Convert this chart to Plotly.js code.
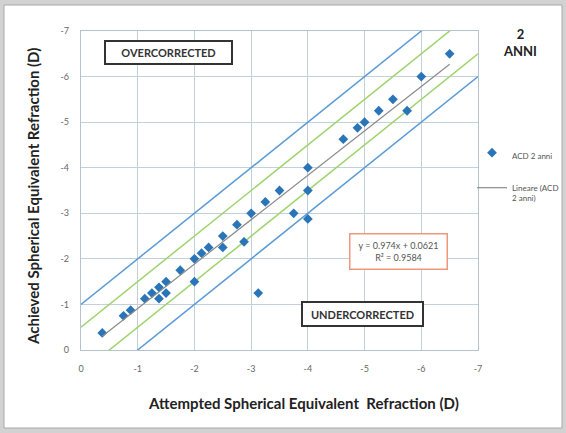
<!DOCTYPE html>
<html>
<head>
<meta charset="utf-8">
<script src="https://cdn.plot.ly/plotly-3.0.1.min.js"></script>
<style>html,body{margin:0;padding:0;background:#d2d2d2;}#chart{width:566px;height:433px;}</style>
</head>
<body>
<div id="chart"></div>
<script>
// Attempted vs achieved spherical equivalent refraction (D), 2 years
var attempted = [-0.375, -0.75, -0.875, -1.125, -1.25, -1.375, -1.375, -1.5, -1.5, -1.75,
  -2, -2, -2.125, -2.25, -2.5, -2.5, -2.75, -2.875, -3, -3.125,
  -3.25, -3.5, -3.75, -4, -4, -4, -4.625, -4.875, -5, -5.25,
  -5.5, -5.75, -6, -6.5];
var achieved = [-0.375, -0.75, -0.875, -1.125, -1.25, -1.375, -1.125, -1.5, -1.25, -1.75,
  -1.5, -2, -2.125, -2.25, -2.25, -2.5, -2.75, -2.375, -3, -1.25,
  -3.25, -3.5, -3, -3.5, -4, -2.875, -4.625, -4.875, -5, -5.25,
  -5.5, -5.25, -6, -6.5];

// Reference bands: lines y = x + offset across the axis range
var bandX = [0, -7];
var blueOffsets = [-1, 1];
var greenOffsets = [-0.5, 0.5];

// Linear trend (Excel): y = 0.974x + 0.0621, R² = 0.9584
var trendSlope = 0.974;
var trendIntercept = 0.0621;
var trendX = [-0.375, -6.5];

var tickVals = [0, -1, -2, -3, -4, -5, -6, -7];
var tickLabels = ['0', '-1', '-2', '-3', '-4', '-5', '-6', '-7'];

var FONT = 'Lato, "Open Sans", sans-serif';
var traces = [];
function bandTrace(off, color) {
  return {x: bandX, y: bandX.map(function (v) { return v + off; }), mode: 'lines',
    line: {color: color, width: 1.5}, showlegend: false, hoverinfo: 'skip'};
}
blueOffsets.forEach(function (o) { traces.push(bandTrace(o, '#5b9bd5')); });
greenOffsets.forEach(function (o) { traces.push(bandTrace(o, '#9fd36e')); });
traces.push({x: attempted, y: achieved, mode: 'markers', name: 'ACD 2 anni', legendgroup: 'a',
  marker: {symbol: 'diamond', size: 7.5, color: '#2a74b8'}});
traces.push({x: trendX, y: trendX.map(function (v) { return trendSlope * v + trendIntercept; }),
  mode: 'lines', name: 'Lineare (ACD<br>2 anni)', legendgroup: 'b',
  line: {color: '#8a8a8a', width: 1.2}});

function px2x(p) { return (p - 81) / 397; }
function px2y(p) { return (350 - p) / 319; }

var layout = {
  width: 566, height: 433,
  margin: {l: 81, r: 88, t: 31, b: 83, autoexpand: false},
  paper_bgcolor: '#d2d2d2',
  plot_bgcolor: 'rgba(0,0,0,0)',
  font: {family: FONT, color: '#444'},
  showlegend: true,
  legend: {x: px2x(472), y: px2y(141), xanchor: 'left', yanchor: 'top',
    bgcolor: 'rgba(0,0,0,0)', font: {size: 8, color: '#555', family: FONT},
    traceorder: 'grouped', tracegroupgap: 16, valign: 'top', itemwidth: 30},
  xaxis: {range: [0, -7], tickvals: tickVals, ticktext: tickLabels, showgrid: true,
    gridcolor: '#c3d0de', gridwidth: 1.2, zeroline: false, showline: true, mirror: true,
    linecolor: '#b5c2d0', linewidth: 1.2, ticks: 'outside', ticklen: 10, tickcolor: 'rgba(0,0,0,0)',
    tickfont: {size: 9, color: '#666', family: FONT}},
  yaxis: {range: [0, -7], tickvals: tickVals, ticktext: tickLabels, showgrid: true,
    gridcolor: '#c3d0de', gridwidth: 1.2, zeroline: false, showline: true, mirror: true,
    linecolor: '#b5c2d0', linewidth: 1.2, ticks: 'outside', ticklen: 9, tickcolor: 'rgba(0,0,0,0)',
    tickfont: {size: 9, color: '#666', family: FONT}},
  shapes: [
    {type: 'rect', xref: 'paper', yref: 'paper', layer: 'below',
      x0: px2x(4), x1: px2x(562), y0: px2y(428), y1: px2y(5),
      fillcolor: '#ffffff', line: {color: '#a8a8a8', width: 1}}
  ],
  annotations: [
    {xref: 'x', yref: 'y', x: -1.55, y: -6.52, text: '<b>OVERCORRECTED</b>', showarrow: false,
      font: {size: 11, color: '#333', family: FONT}, bordercolor: '#333', borderwidth: 2,
      borderpad: 4, width: 117, height: 13, bgcolor: '#ffffff'},
    {xref: 'x', yref: 'y', x: -4.97, y: -0.8, text: '<b>UNDERCORRECTED</b>', showarrow: false,
      font: {size: 11, color: '#333', family: FONT}, bordercolor: '#333', borderwidth: 2,
      borderpad: 4, width: 111, height: 14, bgcolor: '#ffffff'},
    {xref: 'x', yref: 'y', x: -5.59, y: -2.17, text: 'y = 0.974x + 0.0621<br>R² = 0.9584', showarrow: false,
      font: {size: 9, color: '#555', family: FONT}, bordercolor: '#f0967a', borderwidth: 1.5,
      borderpad: 3, width: 90, height: 28, bgcolor: '#ffffff'},
    {xref: 'paper', yref: 'paper', x: px2x(520), y: px2y(43), xanchor: 'center', yanchor: 'middle',
      text: '<b>2<br>ANNI</b>', showarrow: false,
      font: {size: 13, color: '#222', family: FONT}},
    {xref: 'paper', yref: 'paper', x: px2x(303), y: px2y(403), xanchor: 'center', yanchor: 'middle',
      text: '<b>Attempted Spherical Equivalent  Refraction (D)</b>',
      showarrow: false, font: {size: 15, color: '#222', family: FONT}},
    {xref: 'paper', yref: 'paper', x: px2x(33), y: px2y(197), xanchor: 'center', yanchor: 'middle',
      textangle: -90, text: '<b>Achieved Spherical Equivalent Refraction (D)</b>',
      showarrow: false, font: {size: 15, color: '#222', family: FONT}}
  ]
};

Plotly.newPlot('chart', traces, layout, {displayModeBar: false, staticPlot: true});
</script>
</body>
</html>
